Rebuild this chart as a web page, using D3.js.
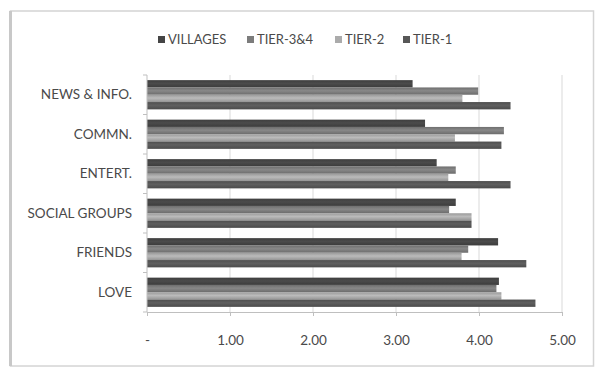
<!DOCTYPE html>
<html><head><meta charset="utf-8">
<script src="https://cdn.jsdelivr.net/npm/d3@7"></script>
<style>body{margin:0;background:#fff;}svg{display:block;font-family:Lato,"Open Sans",sans-serif;}</style>
</head><body>
<svg id="c" width="595" height="367"></svg>
<script>
const categories = ["NEWS & INFO.", "COMMN.", "ENTERT.", "SOCIAL GROUPS", "FRIENDS", "LOVE"];
const seriesNames = ["VILLAGES", "TIER-3&4", "TIER-2", "TIER-1"];
const villages = [3.20, 3.35, 3.49, 3.72, 4.23, 4.24];
const tier34  = [3.99, 4.30, 3.72, 3.64, 3.87, 4.21];
const tier2   = [3.80, 3.71, 3.63, 3.91, 3.79, 4.27];
const tier1   = [4.38, 4.27, 4.38, 3.91, 4.57, 4.68];
const tickValues = [0, 1, 2, 3, 4, 5];
const tickLabels = ["-", "1.00", "2.00", "3.00", "4.00", "5.00"];
const colors = ["#454545", "#7c7c7c", "#ababab", "#575757"];
const seriesValues = [villages, tier34, tier2, tier1];

const svg = d3.select("#c");
// frame
svg.append("rect").attr("x", 10.5).attr("y", 11).attr("width", 583).attr("height", 355)
  .attr("fill", "#fff").attr("stroke", "#d4d4d4").attr("stroke-width", 1.5);
svg.append("line").attr("x1", 10.5).attr("x2", 10.5).attr("y1", 11).attr("y2", 366)
  .attr("stroke", "#c8c8c8").attr("stroke-width", 3);

const x = d3.scaleLinear().domain([0, 5]).range([147, 562]);
const y = d3.scaleBand().domain(categories).range([75, 312]).paddingInner(0.26).paddingOuter(0.13);
const ys = d3.scaleBand().domain(seriesNames).range([0, y.bandwidth()]);

// gridlines
svg.append("g").selectAll("line").data(tickValues.slice(1)).join("line")
  .attr("x1", d => x(d)).attr("x2", d => x(d)).attr("y1", 75).attr("y2", 312)
  .attr("stroke", "#d9d9d9").attr("stroke-width", 1);

// gradient defs per series
const defs = svg.append("defs");
colors.forEach((c, i) => {
  const g = defs.append("linearGradient").attr("id", "g" + i).attr("x1", 0).attr("x2", 0).attr("y1", 0).attr("y2", 1);
  g.append("stop").attr("offset", "0%").attr("stop-color", d3.color(c).darker(0.3));
  g.append("stop").attr("offset", "45%").attr("stop-color", d3.color(c).brighter(0.25));
  g.append("stop").attr("offset", "100%").attr("stop-color", d3.color(c).darker(0.4));
});

// bars
seriesNames.forEach((s, si) => {
  svg.append("g").selectAll("rect").data(categories).join("rect")
    .attr("x", x(0))
    .attr("y", (d) => y(d) + ys(s))
    .attr("width", (d, i) => x(seriesValues[si][i]) - x(0))
    .attr("height", ys.bandwidth())
    .attr("fill", "url(#g" + si + ")");
});

// axes
const xAxis = d3.axisBottom(x).tickValues(tickValues).tickFormat((d, i) => tickLabels[i]).tickSize(4).tickPadding(19);
const gx = svg.append("g").attr("transform", "translate(0,312)").call(xAxis);
gx.select(".domain").attr("stroke", "#bfbfbf");
gx.selectAll(".tick line").attr("stroke", "#bfbfbf");
gx.selectAll(".tick text").attr("fill", "#4a4a4a").style("font-size", "13.5px").style("font-family", "Lato, sans-serif");

// category axis
svg.append("line").attr("x1", 147).attr("x2", 147).attr("y1", 75).attr("y2", 312).attr("stroke", "#bfbfbf");
const bounds = d3.range(categories.length + 1).map(i => 75 + i * (312 - 75) / categories.length);
svg.append("g").selectAll("line").data(bounds).join("line")
  .attr("x1", 143).attr("x2", 147).attr("y1", d => d).attr("y2", d => d).attr("stroke", "#bfbfbf");
svg.append("g").selectAll("text").data(categories).join("text")
  .attr("x", 132).attr("y", d => y(d) + y.bandwidth() / 2).attr("dy", "0.35em")
  .attr("text-anchor", "end").attr("fill", "#4a4a4a").style("font-size", "13.5px").text(d => d);

// legend
const legX = [158, 247, 335, 403];
const lg = svg.append("g");
seriesNames.forEach((s, i) => {
  lg.append("rect").attr("x", legX[i]).attr("y", 36).attr("width", 7).attr("height", 7).attr("fill", colors[i]);
  lg.append("text").attr("x", legX[i] + 10).attr("y", 39.5).attr("dy", "0.35em")
    .attr("fill", "#4a4a4a").style("font-size", "13px").text(s);
});
</script>
</body></html>
